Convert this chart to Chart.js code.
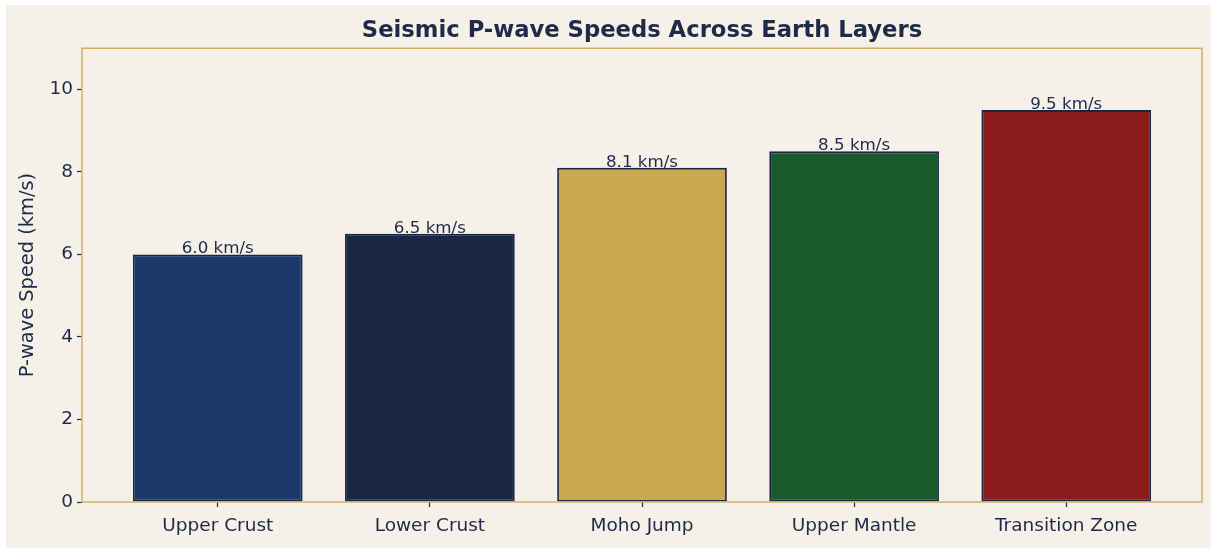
<!DOCTYPE html>
<html>
<head>
<meta charset="utf-8">
<script src="https://cdn.jsdelivr.net/npm/chart.js@4"></script>
<style>
  html, body { margin: 0; padding: 0; background: #ffffff; }
  #wrap { position: absolute; left: 6px; top: 5px; width: 1205px; height: 543px; background: #f5f0e8; }
</style>
</head>
<body>
<div id="wrap"><canvas id="speedChart"></canvas></div>
<script>
// layers and their P-wave speeds (km/s)
var layers = ['Upper Crust', 'Lower Crust', 'Moho Jump', 'Upper Mantle', 'Transition Zone'];
var speeds = [6.0, 6.5, 8.1, 8.5, 9.5];
var barColors = ['#1b3a6b', '#1a2744', '#c8a850', '#1b5a2c', '#8b1a1a'];
var yTicks = [0, 2, 4, 6, 8, 10];

var ink = '#1e2a48';
var gold = '#d0b062';

document.addEventListener('DOMContentLoaded', function() {
    var points = layers.map(function(name, i) {
        return { x: i, y: speeds[i] };
    });

    // outline the plot area on all four sides
    var frame = {
        id: 'frame',
        afterDatasetsDraw: function(chart) {
            var a = chart.chartArea;
            var ctx = chart.ctx;
            ctx.save();
            ctx.strokeStyle = gold;
            ctx.lineWidth = 1.5;
            ctx.strokeRect(a.left, a.top, a.right - a.left, a.bottom - a.top);
            ctx.restore();
        }
    };

    // "6.0 km/s" style labels sitting on each bar
    var valueLabels = {
        id: 'valueLabels',
        afterDatasetsDraw: function(chart) {
            var ctx = chart.ctx;
            var meta = chart.getDatasetMeta(0);
            ctx.save();
            ctx.fillStyle = ink;
            ctx.font = '16.7px "DejaVu Sans"';
            ctx.textAlign = 'center';
            ctx.textBaseline = 'bottom';
            meta.data.forEach(function(bar, i) {
                ctx.fillText(speeds[i].toFixed(1) + ' km/s', bar.x, bar.y + 3);
            });
            ctx.restore();
        }
    };

    var ctx = document.getElementById('speedChart').getContext('2d');
    new Chart(ctx, {
        type: 'bar',
        data: {
            datasets: [{
                data: points,
                backgroundColor: barColors,
                borderColor: '#1a2744',
                borderWidth: 1.8,
                borderSkipped: false,
                categoryPercentage: 1,
                barPercentage: 0.8
            }]
        },
        options: {
            responsive: true,
            maintainAspectRatio: false,
            animation: false,
            layout: { padding: { left: 0, right: 9, top: 0, bottom: 0 } },
            plugins: {
                legend: { display: false },
                tooltip: { enabled: false },
                title: {
                    display: true,
                    fullSize: false,
                    text: 'Seismic P-wave Speeds Across Earth Layers',
                    color: ink,
                    font: { family: '"DejaVu Sans"', size: 22.7, weight: 'bold' },
                    padding: { top: 12, bottom: 4 }
                }
            },
            scales: {
                x: {
                    type: 'linear',
                    min: -0.64,
                    max: 4.64,
                    offset: false,
                    afterBuildTicks: function(scale) {
                        scale.ticks = layers.map(function(n, i) { return { value: i }; });
                    },
                    afterFit: function(scale) { scale.height = 46; },
                    ticks: {
                        color: ink,
                        font: { family: '"DejaVu Sans"', size: 18.5 },
                        padding: 8,
                        maxRotation: 0,
                        callback: function(v) { return layers[v]; }
                    },
                    grid: { drawOnChartArea: false, offset: false, tickLength: 5, tickColor: ink, tickWidth: 1.2 },
                    border: { display: false }
                },
                y: {
                    min: 0,
                    max: 11,
                    afterBuildTicks: function(scale) {
                        scale.ticks = yTicks.map(function(v) { return { value: v }; });
                    },
                    afterFit: function(scale) { scale.width = 76; },
                    title: {
                        display: true,
                        text: 'P-wave Speed (km/s)',
                        color: ink,
                        font: { family: '"DejaVu Sans"', size: 19.4 },
                        padding: { top: 10, bottom: 0 }
                    },
                    ticks: {
                        color: ink,
                        font: { family: '"DejaVu Sans"', size: 18.5 },
                        padding: 4
                    },
                    grid: { drawOnChartArea: false, tickLength: 5, tickColor: ink, tickWidth: 1.2 },
                    border: { display: false }
                }
            }
        },
        plugins: [frame, valueLabels]
    });
});
</script>
</body>
</html>
